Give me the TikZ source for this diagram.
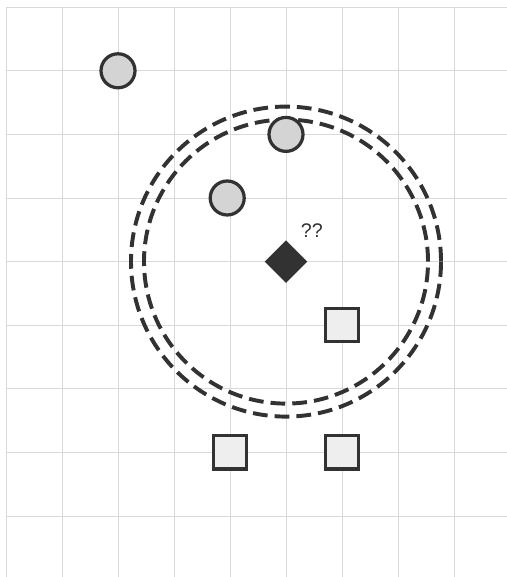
\documentclass[tikz,border=0pt]{standalone}
\usepackage{fontspec}
\setmainfont{Liberation Sans}
\usetikzlibrary{shapes.geometric}
\definecolor{ink}{RGB}{50,50,50}
\definecolor{dotfill}{RGB}{212,212,212}
\definecolor{boxfill}{RGB}{238,238,238}

\begin{document}
\begin{tikzpicture}[x=1.4cm,y=1.59cm,
  dot/.style={circle,draw=ink,fill=dotfill,line width=2.3pt,minimum size=0.85cm,inner sep=0pt},
  box/.style={rectangle,draw=ink,fill=boxfill,line width=2.4pt,minimum size=0.83cm,inner sep=0pt},
  query/.style={diamond,fill=ink,minimum size=1.07cm,inner sep=0pt},
  ring/.style={draw=ink,line width=2.8pt,dash pattern=on 10.5pt off 5pt}]
  \useasboundingbox (-0.107,-0.959) rectangle (8.946,8.113);
  % grid
  \foreach \i in {0,...,8}{\draw[gray!30,line width=0.5pt] (\i,-0.959) -- (\i,8);}
  \foreach \j in {0,...,8}{\draw[gray!30,line width=0.5pt] (0,\j) -- (8.946,\j);}
  % neighbourhood of the query point
  \coordinate (c) at (5,4);
  \draw[ring] (c) circle[radius=3.55cm];
  \draw[ring] (c) circle[radius=3.875cm];
  % query point
  \node[query] (q) at (c) {};
  \node[font=\fontsize{14}{16}\selectfont,text=ink] (qlabel) at (5.46,4.48) {??};
  % circles
  \node[dot] (c1) at (2,7) {};
  \node[dot] (c2) at (5,6) {};
  \node[dot] (c3) at (3.95,5) {};
  % squares
  \node[box] (s1) at (6,3) {};
  \node[box] (s2) at (4,1) {};
  \node[box] (s3) at (6,1) {};
\end{tikzpicture}
\end{document}
